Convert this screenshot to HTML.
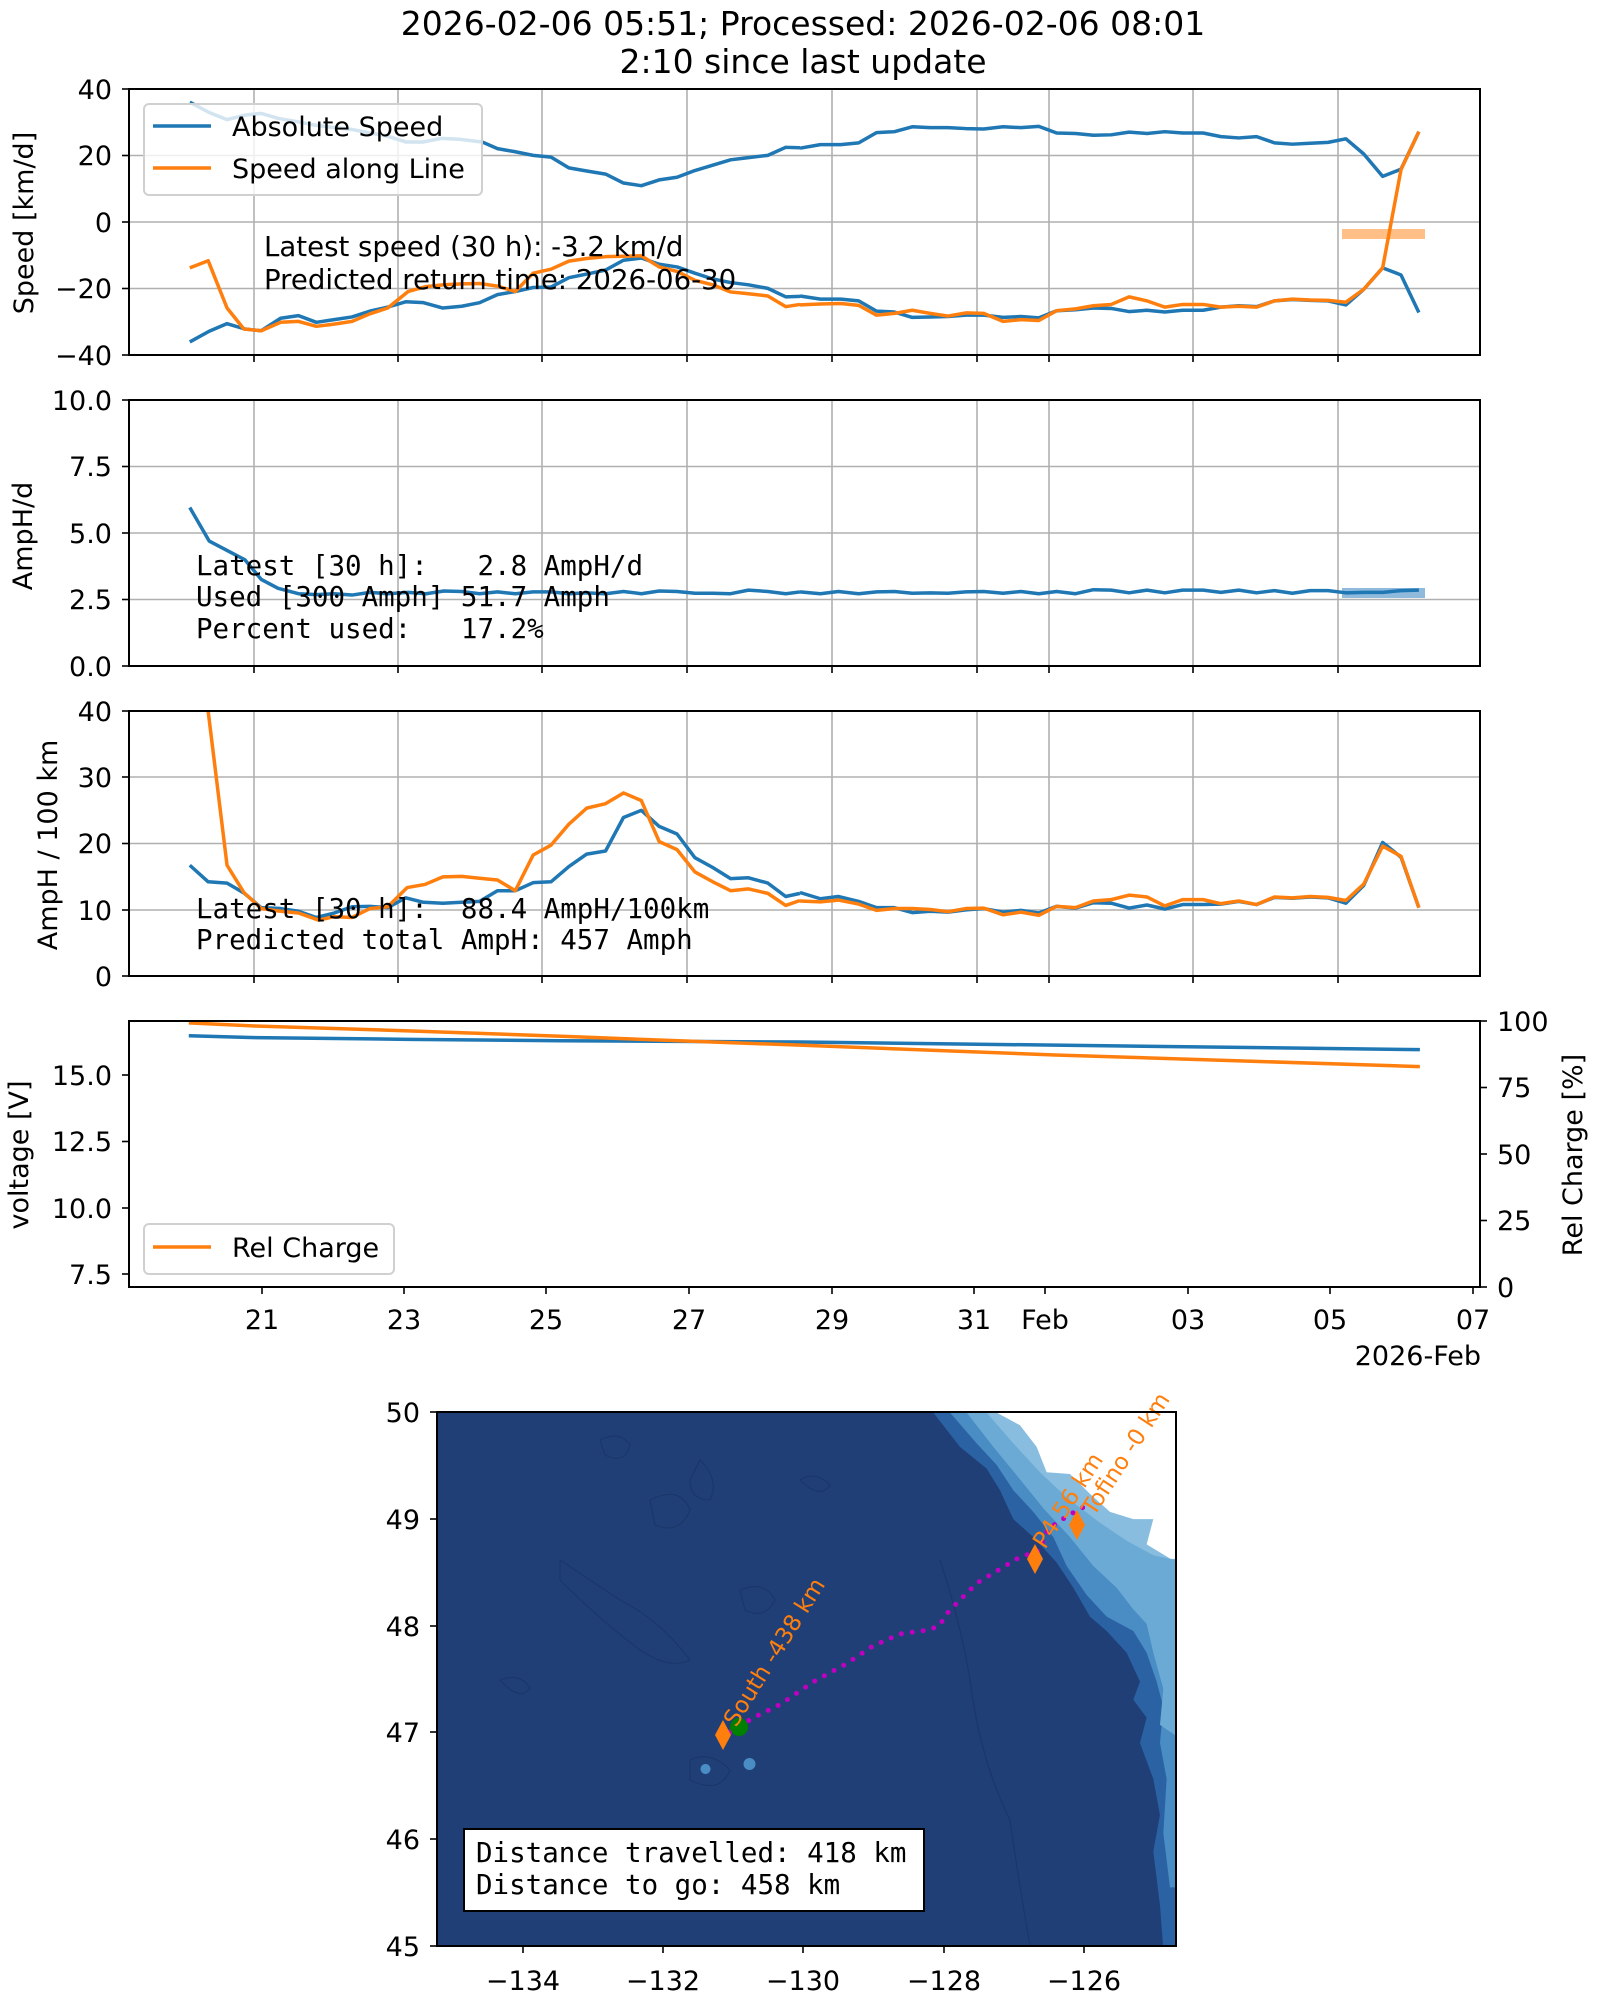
<!DOCTYPE html>
<html><head><meta charset="utf-8"><style>
html,body{margin:0;padding:0;background:#fff}
svg{display:block}
text{font-family:"DejaVu Sans","Liberation Sans",sans-serif;fill:#000}
.t{font-size:27px}
.m{font-family:"DejaVu Sans Mono","Liberation Mono",monospace;font-size:27.5px}
.g{stroke:#b0b0b0;stroke-width:1.6}
.ax{fill:none;stroke:#000;stroke-width:2}
.tk{stroke:#000;stroke-width:1.6}
.b{fill:none;stroke:#1f77b4;stroke-width:3.5;stroke-linejoin:round;vector-effect:non-scaling-stroke}
.o{fill:none;stroke:#ff7f0e;stroke-width:3.5;stroke-linejoin:round;vector-effect:non-scaling-stroke}
</style></head><body>
<svg width="1600" height="2000" viewBox="0 0 1600 2000" xmlns="http://www.w3.org/2000/svg">
<defs>
<clipPath id="c1"><rect x="129" y="89" width="1351" height="266"/></clipPath>
<clipPath id="c2"><rect x="129" y="400" width="1351" height="266"/></clipPath>
<clipPath id="c3"><rect x="129" y="711" width="1351" height="265"/></clipPath>
<clipPath id="c4"><rect x="129" y="1021" width="1351" height="266"/></clipPath>
<clipPath id="cm"><rect x="437" y="1412" width="739" height="534"/></clipPath>
</defs>

<text x="803" y="35" font-size="33" text-anchor="middle">2026-02-06 05:51; Processed: 2026-02-06 08:01</text>
<text x="803" y="73" font-size="33" text-anchor="middle">2:10 since last update</text>

<!-- ===== Axes 1 ===== -->
<g>
<line class="g" x1="129" y1="155.5" x2="1480" y2="155.5"/><line class="g" x1="129" y1="222" x2="1480" y2="222"/><line class="g" x1="129" y1="288.5" x2="1480" y2="288.5"/>
<line class="g" x1="254" y1="89" x2="254" y2="355"/><line class="g" x1="398" y1="89" x2="398" y2="355"/><line class="g" x1="542" y1="89" x2="542" y2="355"/><line class="g" x1="687" y1="89" x2="687" y2="355"/><line class="g" x1="832" y1="89" x2="832" y2="355"/><line class="g" x1="977" y1="89" x2="977" y2="355"/><line class="g" x1="1049" y1="89" x2="1049" y2="355"/><line class="g" x1="1193" y1="89" x2="1193" y2="355"/><line class="g" x1="1338" y1="89" x2="1338" y2="355"/>
</g>
<rect x="1342" y="229" width="83" height="10" fill="#ffbf86"/>
<g clip-path="url(#c1)">
<g transform="scale(0.5102,0.4464)">
<polyline class="b" points="372,229 410,252 445,268 480,258 512,254 545,265 580,272 615,280 650,285 690,290 725,298 760,305 795,318 830,318 865,310 900,312 945,318 975,333 1010,340 1045,348 1080,352 1115,376 1150,383 1187,390 1222,410 1257,416 1292,403 1327,397 1362,382 1397,370 1432,358 1467,353 1505,348 1540,330 1568,331"/>
<polyline class="b" points="372,766 410,742 445,725 480,737 512,741 550,713 585,707 620,722 655,716 690,710 725,697 760,688 795,676 830,678 868,690 905,686 940,678 975,660 1010,653 1045,644 1080,643 1115,622 1150,614 1187,605 1222,583 1257,578 1292,592 1327,598 1362,612 1397,625 1432,633 1467,638 1505,646 1540,665 1568,664"/>
<polyline class="o" points="372,600 408,584 445,690 478,737 512,741 550,722 585,720 620,731 655,726 690,720 725,703 760,690 800,653 835,642 870,638 905,636 940,635 975,641 1010,653 1045,612 1080,603 1115,585 1150,579 1187,575 1222,574 1257,573 1292,598 1327,608 1362,628 1397,638 1432,654 1467,658 1505,663 1540,687 1568,682"/>
</g>
<g transform="translate(800,0) scale(0.5102,0.4464)">
<polyline class="b" points="0,332 40,324 80,324 115,320 150,297 185,295 220,284 255,286 290,286 325,288 360,289 398,284 433,286 468,283 503,298 540,299 575,303 610,302 645,296 680,299 715,295 750,298 790,298 825,306 860,309 895,306 930,320 965,323 1000,321 1035,319 1070,311 1105,345 1142,395 1178,379 1213,295"/>
<polyline class="b" points="0,663 40,670 80,670 115,674 150,697 185,699 220,711 255,710 290,709 325,706 360,706 398,711 433,709 468,712 503,696 540,694 575,690 610,691 645,698 680,695 715,699 750,695 790,695 825,688 860,685 895,687 930,674 965,671 1000,673 1035,674 1070,683 1105,648 1142,600 1178,616 1213,700"/>
<polyline class="o" points="0,683 40,681 80,680 115,684 150,706 185,702 220,695 255,702 290,708 325,701 360,702 398,720 433,716 468,718 503,696 540,692 575,685 610,682 645,665 680,674 715,688 750,682 790,682 825,688 860,686 895,688 930,674 965,670 1000,672 1035,673 1070,677 1105,648 1142,600 1178,380 1213,295"/>
</g>
</g>
<rect class="ax" x="129" y="89" width="1351" height="266"/>
<g class="tk"><line x1="122" y1="89" x2="129" y2="89"/><line x1="122" y1="155.5" x2="129" y2="155.5"/><line x1="122" y1="222" x2="129" y2="222"/><line x1="122" y1="288.5" x2="129" y2="288.5"/><line x1="122" y1="355" x2="129" y2="355"/>
<line x1="254" y1="355" x2="254" y2="362"/><line x1="398" y1="355" x2="398" y2="362"/><line x1="542" y1="355" x2="542" y2="362"/><line x1="687" y1="355" x2="687" y2="362"/><line x1="832" y1="355" x2="832" y2="362"/><line x1="977" y1="355" x2="977" y2="362"/><line x1="1049" y1="355" x2="1049" y2="362"/><line x1="1193" y1="355" x2="1193" y2="362"/><line x1="1338" y1="355" x2="1338" y2="362"/></g>
<g class="t" text-anchor="end"><text x="112" y="99">40</text><text x="112" y="165">20</text><text x="112" y="232">0</text><text x="112" y="298">−20</text><text x="112" y="365">−40</text></g>
<text class="t" transform="translate(33,223) rotate(-90)" text-anchor="middle">Speed [km/d]</text>
<rect x="144" y="104" width="338" height="91" rx="5" fill="#fff" fill-opacity="0.8" stroke="#d0d0d0" stroke-width="2"/>
<line x1="153" y1="126" x2="211" y2="126" stroke="#1f77b4" stroke-width="3.5"/>
<line x1="153" y1="168" x2="211" y2="168" stroke="#ff7f0e" stroke-width="3.5"/>
<text class="t" x="232" y="136">Absolute Speed</text>
<text class="t" x="232" y="178">Speed along Line</text>
<text x="264" y="256" font-size="27.6">Latest speed (30 h): -3.2 km/d</text>
<text x="264" y="289" font-size="27.6">Predicted return time: 2026-06-30</text>

<!-- ===== Axes 2 ===== -->
<g>
<line class="g" x1="129" y1="466.5" x2="1480" y2="466.5"/><line class="g" x1="129" y1="533" x2="1480" y2="533"/><line class="g" x1="129" y1="599.5" x2="1480" y2="599.5"/>
<line class="g" x1="254" y1="400" x2="254" y2="666"/><line class="g" x1="398" y1="400" x2="398" y2="666"/><line class="g" x1="542" y1="400" x2="542" y2="666"/><line class="g" x1="687" y1="400" x2="687" y2="666"/><line class="g" x1="832" y1="400" x2="832" y2="666"/><line class="g" x1="977" y1="400" x2="977" y2="666"/><line class="g" x1="1049" y1="400" x2="1049" y2="666"/><line class="g" x1="1193" y1="400" x2="1193" y2="666"/><line class="g" x1="1338" y1="400" x2="1338" y2="666"/>
</g>
<rect x="1342" y="588" width="83" height="10" fill="#8fbadc"/>
<g clip-path="url(#c2)">
<g transform="scale(0.5102,0.4464)">
<polyline class="b" points="372,1137 410,1212 445,1233 480,1254 512,1298 545,1318 585,1330 620,1332 655,1330 690,1333 725,1327 760,1330 800,1327 835,1330 870,1324 905,1325 940,1330 975,1326 1010,1330 1045,1326 1080,1326 1115,1330 1150,1328 1187,1330 1222,1325 1257,1330 1292,1324 1327,1325 1362,1329 1397,1329 1432,1330 1467,1322 1505,1325 1540,1330 1568,1326"/>
</g>
<g transform="translate(800,0) scale(0.5102,0.4464)">
<polyline class="b" points="0,1326 40,1330 75,1325 115,1330 150,1326 185,1325 220,1329 255,1328 290,1329 325,1326 360,1325 398,1329 433,1325 468,1330 503,1325 540,1330 575,1321 610,1322 645,1328 680,1322 715,1328 750,1322 790,1322 825,1327 860,1322 895,1328 930,1323 965,1329 1000,1323 1035,1323 1070,1328 1105,1327 1142,1327 1178,1323 1213,1322"/>
</g>
</g>
<rect class="ax" x="129" y="400" width="1351" height="266"/>
<g class="tk"><line x1="122" y1="400" x2="129" y2="400"/><line x1="122" y1="466.5" x2="129" y2="466.5"/><line x1="122" y1="533" x2="129" y2="533"/><line x1="122" y1="599.5" x2="129" y2="599.5"/><line x1="122" y1="666" x2="129" y2="666"/>
<line x1="254" y1="666" x2="254" y2="673"/><line x1="398" y1="666" x2="398" y2="673"/><line x1="542" y1="666" x2="542" y2="673"/><line x1="687" y1="666" x2="687" y2="673"/><line x1="832" y1="666" x2="832" y2="673"/><line x1="977" y1="666" x2="977" y2="673"/><line x1="1049" y1="666" x2="1049" y2="673"/><line x1="1193" y1="666" x2="1193" y2="673"/><line x1="1338" y1="666" x2="1338" y2="673"/></g>
<g class="t" text-anchor="end"><text x="112" y="410">10.0</text><text x="112" y="476">7.5</text><text x="112" y="543">5.0</text><text x="112" y="609">2.5</text><text x="112" y="676">0.0</text></g>
<text class="t" transform="translate(32,536) rotate(-90)" text-anchor="middle">AmpH/d</text>
<text class="m" x="196" y="575" xml:space="preserve">Latest [30 h]:   2.8 AmpH/d</text>
<text class="m" x="196" y="606" xml:space="preserve">Used [300 Amph] 51.7 Amph</text>
<text class="m" x="196" y="638" xml:space="preserve">Percent used:   17.2%</text>

<!-- ===== Axes 3 ===== -->
<g>
<line class="g" x1="129" y1="777" x2="1480" y2="777"/><line class="g" x1="129" y1="843.5" x2="1480" y2="843.5"/><line class="g" x1="129" y1="910" x2="1480" y2="910"/>
<line class="g" x1="254" y1="711" x2="254" y2="976"/><line class="g" x1="398" y1="711" x2="398" y2="976"/><line class="g" x1="542" y1="711" x2="542" y2="976"/><line class="g" x1="687" y1="711" x2="687" y2="976"/><line class="g" x1="832" y1="711" x2="832" y2="976"/><line class="g" x1="977" y1="711" x2="977" y2="976"/><line class="g" x1="1049" y1="711" x2="1049" y2="976"/><line class="g" x1="1193" y1="711" x2="1193" y2="976"/><line class="g" x1="1338" y1="711" x2="1338" y2="976"/>
</g>
<g clip-path="url(#c3)">
<g transform="translate(0,680) scale(0.5102,0.4464)">
<polyline class="b" points="372,415 408,452 445,455 478,477 512,510 550,512 585,518 620,532 655,522 690,508 725,507 760,510 795,488 830,498 868,500 905,498 940,496 975,472 1010,472 1045,454 1080,452 1115,418 1150,390 1187,383 1222,308 1257,292 1292,328 1327,345 1362,398 1397,420 1432,445 1467,443 1505,455 1540,485 1568,478"/>
<polyline class="o" points="402,0 408,70 445,415 478,476 512,512 550,518 585,522 625,538 655,530 690,532 725,512 760,508 798,465 833,458 868,441 905,440 940,444 975,448 1010,472 1045,392 1080,370 1115,323 1150,287 1187,277 1222,253 1257,270 1292,362 1327,380 1362,430 1397,452 1432,472 1467,468 1505,478 1540,505 1568,494"/>
</g>
<g transform="translate(800,680) scale(0.5102,0.4464)">
<polyline class="b" points="0,476 40,490 75,485 115,496 150,510 185,510 220,521 255,518 290,520 325,515 360,512 398,520 433,516 468,522 503,507 540,511 575,499 610,500 645,511 680,504 715,513 750,503 790,503 825,502 860,496 895,503 930,487 965,489 1000,486 1035,488 1070,500 1105,460 1142,364 1178,397 1213,510"/>
<polyline class="o" points="0,495 40,497 75,493 115,502 150,516 185,512 220,512 255,514 290,519 325,512 360,511 398,526 433,520 468,527 503,507 540,510 575,495 610,492 645,482 680,486 715,506 750,492 790,492 825,501 860,495 895,503 930,486 965,488 1000,485 1035,487 1070,494 1105,457 1142,372 1178,395 1213,510"/>
</g>
</g>
<rect class="ax" x="129" y="711" width="1351" height="265"/>
<g class="tk"><line x1="122" y1="711" x2="129" y2="711"/><line x1="122" y1="777" x2="129" y2="777"/><line x1="122" y1="843.5" x2="129" y2="843.5"/><line x1="122" y1="910" x2="129" y2="910"/><line x1="122" y1="976" x2="129" y2="976"/>
<line x1="254" y1="976" x2="254" y2="983"/><line x1="398" y1="976" x2="398" y2="983"/><line x1="542" y1="976" x2="542" y2="983"/><line x1="687" y1="976" x2="687" y2="983"/><line x1="832" y1="976" x2="832" y2="983"/><line x1="977" y1="976" x2="977" y2="983"/><line x1="1049" y1="976" x2="1049" y2="983"/><line x1="1193" y1="976" x2="1193" y2="983"/><line x1="1338" y1="976" x2="1338" y2="983"/></g>
<g class="t" text-anchor="end"><text x="112" y="721">40</text><text x="112" y="787">30</text><text x="112" y="853">20</text><text x="112" y="920">10</text><text x="112" y="986">0</text></g>
<text class="t" transform="translate(57,845) rotate(-90)" text-anchor="middle">AmpH / 100 km</text>
<text class="m" x="196" y="918" xml:space="preserve">Latest [30 h]:  88.4 AmpH/100km</text>
<text class="m" x="196" y="949" xml:space="preserve">Predicted total AmpH: 457 Amph</text>

<!-- ===== Axes 4 ===== -->
<g clip-path="url(#c4)">
<g transform="translate(0,680) scale(0.5102,0.4464)">
<polyline class="b" points="370,797 500,801 800,805 1100,808 1568,811"/>
<polyline class="o" points="370,768 500,775 800,786 1100,798 1350,809 1568,818"/>
</g>
<g transform="translate(800,680) scale(0.5102,0.4464)">
<polyline class="b" points="0,811 500,818 1215,828"/>
<polyline class="o" points="0,818 500,840 1215,866"/>
</g>
</g>
<rect class="ax" x="129" y="1021" width="1351" height="266"/>
<g class="tk"><line x1="122" y1="1075" x2="129" y2="1075"/><line x1="122" y1="1141.5" x2="129" y2="1141.5"/><line x1="122" y1="1208" x2="129" y2="1208"/><line x1="122" y1="1274" x2="129" y2="1274"/>
<line x1="1480" y1="1021" x2="1487" y2="1021"/><line x1="1480" y1="1087.5" x2="1487" y2="1087.5"/><line x1="1480" y1="1154" x2="1487" y2="1154"/><line x1="1480" y1="1220.5" x2="1487" y2="1220.5"/><line x1="1480" y1="1287" x2="1487" y2="1287"/>
<line x1="262" y1="1287" x2="262" y2="1294"/><line x1="404" y1="1287" x2="404" y2="1294"/><line x1="546" y1="1287" x2="546" y2="1294"/><line x1="689" y1="1287" x2="689" y2="1294"/><line x1="832" y1="1287" x2="832" y2="1294"/><line x1="974" y1="1287" x2="974" y2="1294"/><line x1="1045" y1="1287" x2="1045" y2="1294"/><line x1="1188" y1="1287" x2="1188" y2="1294"/><line x1="1330" y1="1287" x2="1330" y2="1294"/><line x1="1473" y1="1287" x2="1473" y2="1294"/></g>
<g class="t" text-anchor="end"><text x="112" y="1085">15.0</text><text x="112" y="1151">12.5</text><text x="112" y="1218">10.0</text><text x="112" y="1284">7.5</text></g>
<g class="t"><text x="1497" y="1031">100</text><text x="1497" y="1097">75</text><text x="1497" y="1164">50</text><text x="1497" y="1230">25</text><text x="1497" y="1297">0</text></g>
<g class="t" text-anchor="middle"><text x="262" y="1329">21</text><text x="404" y="1329">23</text><text x="546" y="1329">25</text><text x="689" y="1329">27</text><text x="832" y="1329">29</text><text x="974" y="1329">31</text><text x="1045" y="1329">Feb</text><text x="1188" y="1329">03</text><text x="1330" y="1329">05</text><text x="1473" y="1329">07</text></g>
<text class="t" x="1481" y="1365" text-anchor="end">2026-Feb</text>
<text class="t" transform="translate(28,1155) rotate(-90)" text-anchor="middle">voltage [V]</text>
<text class="t" transform="translate(1582,1155) rotate(-90)" text-anchor="middle">Rel Charge [%]</text>
<rect x="144" y="1224" width="250" height="50" rx="5" fill="#fff" fill-opacity="0.8" stroke="#d0d0d0" stroke-width="2"/>
<line x1="153" y1="1247" x2="211" y2="1247" stroke="#ff7f0e" stroke-width="3.5"/>
<text class="t" x="232" y="1257">Rel Charge</text>

<!-- ===== Map ===== -->
<g clip-path="url(#cm)">
<rect x="437" y="1412" width="739" height="534" fill="#213f77"/>
<g fill="none" stroke="#1a3466" stroke-width="1.2" opacity="0.8">
<path d="M600,1440 q20,-10 30,5 q-5,20 -25,10z"/>
<path d="M650,1500 q30,-15 40,10 q-10,25 -35,15z"/>
<path d="M560,1560 q30,20 60,40 q40,20 70,60 q-20,10 -50,-10 q-40,-30 -80,-70z"/>
<path d="M700,1460 q20,20 10,40 q-20,0 -20,-20z"/>
<path d="M740,1590 q25,-10 35,10 q-10,20 -30,10z"/>
<path d="M800,1480 q15,-10 30,5 q-10,15 -30,-5z"/>
<path d="M690,1760 q20,-10 40,10 q-10,25 -40,10z"/>
<path d="M940,1560 q20,60 30,120 q10,80 40,140 q10,70 20,126"/>
<path d="M500,1680 q20,-8 30,8 q-10,14 -30,-8z"/>
</g>
<g transform="translate(900,1400) scale(0.3333,0.361)">
<polygon fill="#2a62a3" points="100,35 180,130 260,190 300,250 340,330 400,380 470,450 520,520 570,600 620,640 680,700 720,780 700,830 740,880 720,950 760,1050 780,1150 760,1250 780,1400 790,1520 860,1520 860,0 100,0"/>
<polygon fill="#4a8cc4" points="150,35 230,120 290,180 340,250 400,310 460,380 500,460 560,540 620,600 700,640 740,700 770,780 790,850 780,950 800,1050 790,1200 810,1350 860,1350 860,0 150,0"/>
<polygon fill="#6aaad5" points="200,35 280,130 360,220 430,300 510,380 580,460 650,520 700,580 740,620 760,700 790,800 780,900 860,950 860,0 200,0"/>
<polygon fill="#88bde0" points="260,35 340,120 420,200 500,270 600,340 680,390 760,430 860,450 860,0 260,0"/>
<polygon fill="#fff" points="290,35 360,70 410,130 440,200 510,205 570,260 630,310 700,330 760,330 740,400 812,440 860,440 860,0 290,0"/>
</g>
<path d="M705,1764 a5,5 0 1,0 1,0z M749,1758 a6,6 0 1,0 1,0z" fill="#4a8cc4"/>
</g>
<polyline points="730,1732 753,1718 781,1704 813,1682 846,1664 873,1646 900,1634 928,1630 939,1626 949,1611 977,1583 1020,1557 1039,1551 1048,1529 1069,1515 1091,1503" fill="none" stroke="#c000c0" stroke-width="5" stroke-linecap="round" stroke-dasharray="0 11"/>
<polygon points="723,1720 731,1735 723,1750 715,1735" fill="#ff7f0e"/>
<circle cx="739" cy="1727" r="9" fill="#008000"/>
<polygon points="1035,1544 1043,1559 1035,1574 1027,1559" fill="#ff7f0e"/>
<polygon points="1077,1510 1085,1525 1077,1540 1069,1525" fill="#ff7f0e"/>
<g font-size="23">
<text transform="translate(736,1728) rotate(-58)" style="fill:#ff7f0e">South -438 km</text>
<text transform="translate(1045,1550) rotate(-57)" style="fill:#ff7f0e">P4 56 km</text>
<text transform="translate(1094,1517) rotate(-57)" style="fill:#ff7f0e">Tofino -0 km</text>
</g>
<rect class="ax" x="437" y="1412" width="739" height="534"/>
<rect x="464" y="1829" width="460" height="82" fill="#fff" stroke="#000" stroke-width="2"/>
<text class="m" x="476" y="1862">Distance travelled: 418 km</text>
<text class="m" x="476" y="1894">Distance to go: 458 km</text>
<g class="tk"><line x1="430" y1="1412" x2="437" y2="1412"/><line x1="430" y1="1519" x2="437" y2="1519"/><line x1="430" y1="1626" x2="437" y2="1626"/><line x1="430" y1="1732" x2="437" y2="1732"/><line x1="430" y1="1839" x2="437" y2="1839"/><line x1="430" y1="1946" x2="437" y2="1946"/>
<line x1="523" y1="1946" x2="523" y2="1953"/><line x1="663" y1="1946" x2="663" y2="1953"/><line x1="803" y1="1946" x2="803" y2="1953"/><line x1="944" y1="1946" x2="944" y2="1953"/><line x1="1084" y1="1946" x2="1084" y2="1953"/></g>
<g class="t" text-anchor="end"><text x="420" y="1422">50</text><text x="420" y="1529">49</text><text x="420" y="1636">48</text><text x="420" y="1742">47</text><text x="420" y="1849">46</text><text x="420" y="1956">45</text></g>
<g class="t" text-anchor="middle"><text x="523" y="1990">−134</text><text x="663" y="1990">−132</text><text x="803" y="1990">−130</text><text x="944" y="1990">−128</text><text x="1084" y="1990">−126</text></g>
</svg>
</body></html>
